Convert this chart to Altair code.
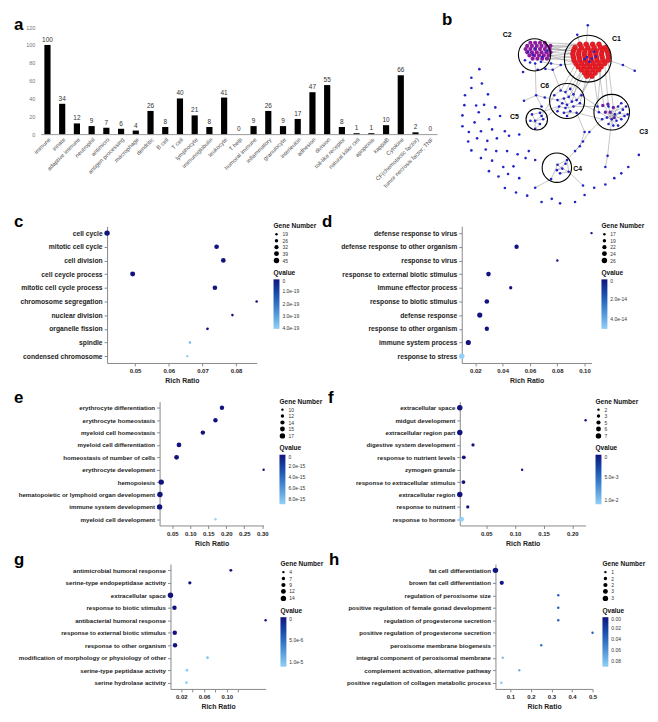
import math
import altair as alt
import pandas as pd

FONT = "Liberation Sans"
DARK = "#12137f"
LIGHT = "#93d0f6"

# ---------------- panel a ----------------
A_CATS = ["immune", "innate", "adaptive immune", "neutrophil", "antimicro", "antigen processing",
          "macrophage", "dendritic", "B cell", "T cell", "lymphocyte", "immunoglobulin", "leukocyte",
          "T help", "humoral immune", "inflammatory", "granulocyte", "interleukin", "adhesion",
          "division", "toll-like receptor", "natural killer cell", "apoptosis", "kappaB", "Cytokine",
          "CF(chemotactic factor)", "tumor necrosis factor; TNF"]
A_VALS = [100, 34, 12, 9, 7, 6, 4, 26, 8, 40, 21, 8, 41, 0, 9, 26, 9, 17, 47, 55, 8, 1, 1, 10, 66, 2, 0]
A_YTICKS = [0, 20, 40, 60, 80, 100, 120]

# ---------------- panel b (network, layout units) ----------------
OUT_X = [125, 100, 133, 80, 100, 152, 78, 115, 140, 175, 72, 123, 155, 190, 72, 110, 92, 130, 165, 205,
         90, 118, 150, 180, 218, 250, 100, 145, 178, 212, 245, 280, 130, 165, 200, 232, 270, 300, 155,
         185, 215, 250, 205, 240, 275, 300, 320, 352, 378, 425, 455, 485, 520, 548, 570, 592, 625, 450]
OUT_Y = [183, 210, 228, 265, 242, 262, 296, 297, 295, 303, 328, 318, 340, 330, 362, 350, 380, 378, 372, 378,
         410, 400, 408, 400, 392, 388, 438, 435, 440, 440, 450, 440, 462, 470, 490, 488, 462, 468, 503,
         520, 512, 525, 556, 570, 580, 555, 600, 590, 604, 600, 578, 555, 545, 525, 510, 490, 452, 548]
CON_X = [380, 355, 303, 330, 265, 320, 455, 440, 425, 470, 450, 575, 612, 465, 432, 527, 520]
CON_Y = [170, 185, 265, 272, 282, 300, 380, 425, 440, 380, 410, 170, 188, 45, 75, 455, 490]
C6_X = [380, 395, 410, 420, 405, 390, 370, 385, 400, 415, 430, 375, 395, 420, 440, 410, 390, 430, 360, 445, 400, 370]
C6_Y = [250, 255, 245, 262, 270, 275, 280, 290, 295, 285, 280, 300, 305, 300, 290, 315, 320, 320, 265, 265, 330, 315]
C5_X = [290, 315, 325, 300, 285, 315, 300, 320]
C5_Y = [325, 320, 340, 345, 345, 355, 370, 330]
C4_X = [400, 370, 385, 405, 368, 350, 395, 378]
C4_Y = [468, 483, 495, 505, 500, 528, 480, 510]
C3_X = [530, 560, 575, 550, 565, 580, 525, 540, 555, 570, 510, 545, 560, 530, 590, 500, 495, 585, 570]
C3_Y = [300, 300, 310, 325, 320, 330, 335, 340, 345, 340, 340, 360, 360, 355, 325, 318, 300, 300, 290]
C3P_X = [512, 528, 545, 535, 520, 548]
C3P_Y = [297, 293, 303, 318, 318, 335]
C2B_X = [278, 292, 300, 322, 338, 284, 300, 318, 332, 268, 262, 308, 350]
C2B_Y = [128, 138, 118, 145, 125, 162, 165, 160, 182, 155, 192, 185, 165]
C2_X = [285, 300, 315, 330, 275, 290, 305, 320, 335, 348, 270, 285, 300, 315, 330, 345,
        275, 290, 305, 320, 335, 348, 282, 297, 312, 327, 342, 292, 307, 322, 337]
C2_Y = [100, 100, 100, 100, 110, 110, 110, 110, 110, 110, 120, 120, 120, 120, 120, 120,
        130, 130, 130, 130, 130, 130, 140, 140, 140, 140, 140, 150, 150, 150, 150]
C1B_X = [462, 478, 490, 470, 455, 485]
C1B_Y = [145, 150, 143, 160, 152, 128]
C1_X = [440, 460, 480, 500, 425, 445, 465, 485, 505, 520, 420, 438, 456, 474, 492, 510, 526,
        418, 436, 454, 472, 490, 508, 528, 420, 438, 456, 474, 492, 510, 530, 422, 440, 458, 476,
        494, 512, 528, 428, 446, 464, 482, 500, 518, 435, 453, 471, 489, 507, 445, 463, 481, 499,
        455, 470, 488, 462, 478]
C1_Y = [105, 105, 105, 105, 115, 115, 115, 115, 115, 115, 125, 125, 125, 125, 125, 125, 125,
        135, 135, 135, 135, 135, 135, 135, 145, 145, 145, 145, 145, 145, 145, 155, 155, 155, 155,
        155, 155, 155, 165, 165, 165, 165, 165, 165, 175, 175, 175, 175, 175, 185, 185, 185, 185,
        195, 195, 195, 205, 205]
# edges: start/end points in layout units
E_X1 = [348, 348, 348, 342, 337, 345, 348, 342, 330, 337, 348, 335, 342, 330,
        453, 463, 478, 440, 428, 488, 470, 462, 445,
        500, 518, 528, 507, 481, 528, 575, 465, 432,
        300, 318, 380, 355, 332, 303, 303, 303, 330, 355,
        380, 395, 410, 420, 405, 390, 370, 385, 400, 415, 430, 375, 395, 420, 410, 390, 360, 400, 370,
        405, 395, 385, 400, 400, 420, 390,
        440, 430, 420, 445, 370, 360, 375,
        290, 315, 290, 300, 300, 285, 320, 315,
        540, 540, 540, 540, 540, 540, 540, 540, 540, 540, 540, 535, 535, 535, 535, 535, 535, 535, 550, 550,
        430, 455, 440, 425, 510, 470, 450, 540, 527,
        400, 370, 385, 400, 370, 368, 378, 395, 368, 350, 405]
E_Y1 = [110, 120, 130, 140, 150, 120, 110, 140, 100, 150, 130, 110, 140, 120,
        175, 185, 205, 165, 165, 185, 160, 205, 185,
        185, 165, 155, 175, 185, 155, 170, 45, 75,
        165, 160, 170, 185, 182, 265, 265, 265, 272, 185,
        250, 255, 245, 262, 270, 275, 280, 290, 295, 285, 280, 300, 305, 300, 315, 320, 265, 330, 315,
        270, 255, 290, 295, 295, 262, 275,
        290, 320, 300, 265, 300, 265, 300,
        325, 320, 325, 345, 345, 345, 330, 355,
        340, 340, 340, 340, 340, 340, 340, 340, 340, 340, 340, 320, 320, 320, 320, 320, 320, 320, 325, 325,
        320, 380, 425, 440, 340, 380, 410, 340, 455,
        468, 483, 495, 468, 483, 500, 510, 480, 500, 528, 505]
E_X2 = [425, 420, 418, 420, 422, 440, 418, 428, 440, 420, 425, 460, 418, 420,
        410, 420, 430, 395, 380, 445, 405, 440, 415,
        515, 530, 545, 495, 500, 575, 612, 460, 440,
        303, 380, 428, 380, 355, 330, 265, 320, 370, 380,
        395, 410, 420, 405, 390, 370, 385, 400, 415, 430, 445, 395, 420, 440, 390, 430, 380, 410, 375,
        415, 405, 375, 395, 410, 430, 400,
        500, 510, 495, 495, 315, 320, 325,
        315, 325, 300, 325, 300, 315, 300, 300,
        515, 530, 560, 575, 520, 565, 580, 525, 545, 560, 500, 545, 550, 555, 570, 590, 585, 570, 530, 510,
        455, 440, 425, 400, 470, 450, 425, 527, 520,
        370, 385, 405, 405, 350, 395, 405, 400, 385, 300, 450]
E_Y2 = [115, 125, 135, 145, 155, 105, 135, 165, 105, 145, 115, 105, 135, 125,
        245, 262, 280, 255, 250, 265, 270, 290, 285,
        295, 300, 305, 300, 318, 170, 188, 105, 105,
        265, 170, 165, 170, 185, 272, 282, 300, 280, 250,
        255, 245, 262, 270, 275, 280, 290, 295, 285, 280, 265, 305, 300, 290, 320, 320, 250, 315, 300,
        285, 270, 300, 305, 315, 280, 295,
        318, 340, 300, 300, 320, 330, 340,
        320, 340, 345, 340, 370, 355, 345, 370,
        295, 300, 300, 310, 315, 320, 330, 335, 360, 360, 318, 305, 325, 345, 340, 325, 300, 290, 355, 340,
        380, 425, 440, 468, 380, 410, 440, 455, 490,
        483, 495, 505, 505, 528, 480, 505, 468, 495, 555, 548]
CIRC_X = [465, 298, 540, 400, 305, 368]
CIRC_Y = [150, 138, 318, 283, 340, 492]
CIRC_R = [83, 57, 63, 62, 38, 52]
CLAB = ["C1", "C2", "C3", "C6", "C5", "C4"]
CLAB_X = [555, 212, 640, 330, 235, 433]
CLAB_Y = [88, 75, 380, 237, 332, 497]

# ---------------- panels c-h ----------------
C_TERMS = ["cell cycle", "mitotic cell cycle", "cell division", "cell ceycle process",
           "mitotic cell cycle process", "chromosome segregation", "nuclear division",
           "organelle fission", "spindle", "condensed chromosome"]
C_RATIO = [0.0417, 0.0742, 0.0762, 0.0493, 0.0737, 0.0861, 0.0789, 0.0715, 0.0663, 0.0655]
C_GENES = [45, 37, 37, 40, 36, 20, 20, 21, 19, 19]
C_Q = [0, 0, 0, 0, 0, 0, 0, 0, 3.5e-19, 4.1e-19]
C_QTICKS = [0, 1e-19, 2e-19, 3e-19, 4e-19]
C_GTICKS = [19, 25.5, 32, 38.5, 45]
C_XTICKS = [0.05, 0.06, 0.07, 0.08]

D_TERMS = ["defense response to virus", "defense response to other organism", "response to virus",
           "response to external biotic stimulus", "immune effector process",
           "response to biotic stimulus", "defense response", "response to other organism",
           "immune system process", "response to stress"]
D_RATIO = [0.1052, 0.0502, 0.0801, 0.0296, 0.0459, 0.0284, 0.0232, 0.0284, 0.0148, 0.0100]
D_GENES = [17, 22, 17, 23, 19, 23, 25, 22, 25, 26]
D_Q = [0, 0, 0, 0, 0, 0, 0, 0, 0, 5e-14]
D_QTICKS = [0, 2e-14, 4e-14]
D_GTICKS = [17, 19.25, 21.5, 23.75, 26]
D_XTICKS = [0.02, 0.04, 0.06, 0.08, 0.10]

E_TERMS = ["erythrocyte differentiation", "erythrocyte homeostasis", "myeloid cell homeostasis",
           "myeloid cell differentiation", "homeostasis of number of cells", "erythrocyte development",
           "hemopoiesis", "hematopoietic or lymphoid organ development", "immune system development",
           "myeloid cell development"]
E_RATIO = [0.188, 0.170, 0.135, 0.0686, 0.062, 0.3037, 0.0194, 0.0158, 0.0148, 0.170]
E_GENES = [14, 14, 14, 15, 15, 10, 17, 17, 17, 10]
E_Q = [0, 0, 0, 0, 0, 0, 0, 0, 0, 9e-15]
E_QTICKS = [0, 2e-15, 4e-15, 6e-15, 8e-15]
E_GTICKS = [10, 11.75, 13.5, 15.25, 17]
E_XTICKS = [0.05, 0.10, 0.15, 0.20, 0.25, 0.30]

F_TERMS = ["extracellular space", "midgut development", "extracellular region part",
           "digestive system development", "response to nutrient levels", "zymogen granule",
           "response to extracellular stimulus", "extracellular region", "response to nutnent",
           "response to hormone"]
F_RATIO = [0.0037, 0.2232, 0.0037, 0.0268, 0.0107, 0.1124, 0.0101, 0.0037, 0.0176, 0.0067]
F_GENES = [7, 2, 7, 3, 4, 2, 4, 7, 3, 6]
F_Q = [0, 0, 0, 0, 0, 0, 0, 0, 0, 1.1e-2]
F_QTICKS = [0, 5e-3, 1e-2]
F_GTICKS = [2, 3.25, 4.5, 5.75, 7]
F_XTICKS = [0.05, 0.10, 0.15, 0.20]

G_TERMS = ["antimicrobial humoral response", "serine-type endopeptidase activity", "extracellular space",
           "response to biotic stimulus", "antibacterial humoral response",
           "response to external biotic stimulus", "response to other organism",
           "modification of morphology or physiology of other", "serine-type peptidase activity",
           "serine hydrolase activity"]
G_RATIO = [0.107, 0.035, 0.001, 0.008, 0.168, 0.0085, 0.009, 0.066, 0.030, 0.029]
G_GENES = [5, 6, 14, 10, 4, 10, 10, 5, 5, 5]
G_Q = [0, 0, 0, 0, 0, 0, 0, 1.05e-5, 1.1e-5, 1.1e-5]
G_QTICKS = [0, 5e-6, 1e-5]
G_GTICKS = [4, 6.5, 9, 11.5, 14]
G_XTICKS = [0.02, 0.04, 0.06, 0.08, 0.10, 0.12]

H_TERMS = ["fat cell differentiation", "brown fat cell differentiation", "regulation of peroxisome size",
           "positive regulation of female gonad development", "regulation of progesterone secretion",
           "positive regulation of progesterone secretion", "peroxisome membrane biogenesis",
           "integral component of peroxisomal membrane", "complement activation, alternative pathway",
           "positive regulation of collagen metabolic process"]
H_RATIO = [0.027, 0.0578, 0.333, 0.333, 0.333, 0.5, 0.25, 0.0625, 0.143, 0.0556]
H_GENES = [3, 2, 1, 1, 1, 1, 1, 1, 1, 1]
H_Q = [0, 0.002, 0.035, 0.035, 0.035, 0.035, 0.045, 0.08, 0.075, 0.085]
H_QTICKS = [0, 0.02, 0.04, 0.06, 0.08]
H_GTICKS = [1, 1.5, 2, 2.5, 3]
H_XTICKS = [0.1, 0.2, 0.3, 0.4, 0.5]


def letter(text, px, py):
    """Panel letter, placed relative to the panel's plot area."""
    return alt.Chart(pd.DataFrame({"t": [text]})).mark_text(
        font=FONT, fontSize=17, fontWeight="bold", color="black", align="left",
        baseline="alphabetic").encode(text="t:N", x=alt.value(px), y=alt.value(py))


# ---- a ----
a_df = pd.DataFrame({"cat": A_CATS, "val": A_VALS})
a_base = alt.Chart(a_df).encode(
    x=alt.X("cat:N", sort=A_CATS, title=None,
            scale=alt.Scale(paddingInner=0.58, paddingOuter=0.25),
            axis=alt.Axis(labelAngle=-45, labelFontSize=5.8, labelColor="#555", ticks=False,
                          domainColor="#999", labelPadding=2, labelLimit=200)),
    y=alt.Y("val:Q", title=None, scale=alt.Scale(domain=[0, 120]),
            axis=alt.Axis(values=A_YTICKS, grid=False, domain=False, ticks=False, labelFontSize=5.5,
                          labelColor="#777", labelPadding=6)),
)
a_chart = alt.layer(
    a_base.mark_bar(color="black"),
    a_base.mark_text(dy=-5, fontSize=6.5, color="#333", font=FONT).encode(text="val:Q"),
    letter("a", -27, 3),
).properties(width=400, height=108)

# ---- b ----
NX0, NX1, NY0, NY1 = 45, 660, 51, 620
WB = 198
K = WB / (NX1 - NX0)
HB = round((NY1 - NY0) * K)
xsc = alt.Scale(domain=[NX0, NX1], nice=False, zero=False)
ysc = alt.Scale(domain=[NY0, NY1], nice=False, zero=False, reverse=True)


def nodes(xs, ys, color, size, stroke=None):
    df = pd.DataFrame({"x": xs, "y": ys})
    kw = dict(color=color, size=size, opacity=1)
    if stroke:
        kw.update(stroke=stroke, strokeWidth=0.4)
    return alt.Chart(df).mark_circle(**kw).encode(
        x=alt.X("x:Q", scale=xsc, axis=None), y=alt.Y("y:Q", scale=ysc, axis=None))


edges_df = pd.DataFrame({"x1": E_X1, "y1": E_Y1, "x2": E_X2, "y2": E_Y2})
edges = alt.Chart(edges_df).mark_rule(color="#8a8a8a", strokeWidth=0.5).encode(
    x=alt.X("x1:Q", scale=xsc, axis=None), y=alt.Y("y1:Q", scale=ysc, axis=None), x2="x2:Q", y2="y2:Q")
circ_df = pd.DataFrame({"x": CIRC_X, "y": CIRC_Y, "r": CIRC_R})
circ_df["area"] = [math.pi * (r * K) ** 2 for r in CIRC_R]
circles = alt.Chart(circ_df).mark_point(shape="circle", filled=False, color="black", strokeWidth=1.1,
                                         opacity=1).encode(
    x=alt.X("x:Q", scale=xsc, axis=None), y=alt.Y("y:Q", scale=ysc, axis=None),
    size=alt.Size("area:Q", scale=None))
lab_df = pd.DataFrame({"x": CLAB_X, "y": CLAB_Y, "t": CLAB})
labels = alt.Chart(lab_df).mark_text(font=FONT, fontSize=7, fontWeight="bold", color="black").encode(
    x=alt.X("x:Q", scale=xsc, axis=None), y=alt.Y("y:Q", scale=ysc, axis=None), text="t:N")

BLUE = "#2424c4"
b_chart = alt.layer(
    edges,
    nodes(C1_X, C1_Y, "#ec1c24", 26, stroke="#b3121a"),
    nodes(C2_X, C2_Y, "#8c1c9c", 18),
    nodes(C3P_X, C3P_Y, "#6c22a8", 12),
    nodes(OUT_X + CON_X + C6_X + C5_X + C4_X + C3_X + C2B_X + C1B_X,
          OUT_Y + CON_Y + C6_Y + C5_Y + C4_Y + C3_Y + C2B_Y + C1B_Y, BLUE, 7),
    circles,
    labels,
    letter("b", -12, -2),
).properties(width=WB, height=HB)


# ---- dot panels ----
def dot_panel(let, lx, ly, terms, ratio, genes, qv, qmax, qticks, qlabel, gticks, xticks, xfmt,
              width, height, lab_fs, legend_gap):
    df = pd.DataFrame({"term": terms, "ratio": ratio, "genes": genes, "q": qv})
    color_legend = dict(title="Qvalue", values=qticks, orient="none", legendX=width + legend_gap,
                        legendY=44, direction="vertical", gradientLength=50, gradientThickness=6,
                        labelOverlap=False, labelFontSize=5, titleFontSize=6.6, labelOffset=3,
                        titlePadding=3, gradientStrokeWidth=0)
    if qlabel:
        color_legend["labelExpr"] = qlabel
    else:
        color_legend["format"] = ".2f"
    dots = alt.Chart(df).mark_circle(opacity=1).encode(
        x=alt.X("ratio:Q", title="Rich Ratio",
                scale=alt.Scale(domain=[min(ratio), max(ratio)], nice=False, zero=False),
                axis=alt.Axis(values=xticks, format=xfmt, grid=False, labelFontSize=6,
                              labelFontWeight="bold", titleFontSize=7, titleFontWeight="bold",
                              tickSize=3, labelPadding=2, titlePadding=3, domainColor="#888",
                              tickColor="#888", labelColor="#222", titleColor="#222", labelFlush=False)),
        y=alt.Y("term:N", sort=terms, title=None,
                axis=alt.Axis(labelFontSize=lab_fs, labelFontWeight="bold", labelColor="#222",
                              tickSize=3, labelPadding=2, domainColor="#888", tickColor="#888",
                              labelLimit=400, grid=False)),
        size=alt.Size("genes:Q",
                      scale=alt.Scale(domain=[min(genes), max(genes)], range=[6, 30], zero=False),
                      legend=alt.Legend(title="Gene Number", values=gticks, format="d", orient="none",
                                        legendX=width + legend_gap, legendY=-3, symbolType="circle",
                                        labelFontSize=5, titleFontSize=6.6, rowPadding=0.5,
                                        labelOffset=3, titlePadding=2, symbolStrokeWidth=0)),
        color=alt.Color("q:Q", scale=alt.Scale(domain=[qmax, 0], range=[LIGHT, DARK]),
                        legend=alt.Legend(**color_legend)),
    )
    return alt.layer(dots, letter(let, lx, ly)).properties(width=width, height=height)


SCI = "datum.value == 0 ? '0' : format(datum.value, '.1e')"
c_chart = dot_panel("c", -94, 1, C_TERMS, C_RATIO, C_GENES, C_Q, 4.1e-19, C_QTICKS, SCI, C_GTICKS,
                    C_XTICKS, ".2f", 151, 138, 6.8, 17)
d_chart = dot_panel("d", -141, 1, D_TERMS, D_RATIO, D_GENES, D_Q, 5e-14, D_QTICKS, SCI, D_GTICKS,
                    D_XTICKS, ".2f", 131, 138, 6.8, 10)
e_chart = dot_panel("e", -147, 1, E_TERMS, E_RATIO, E_GENES, E_Q, 9e-15, E_QTICKS, SCI, E_GTICKS,
                    E_XTICKS, ".2f", 105, 125, 6.2, 16)
f_chart = dot_panel("f", -133, 1, F_TERMS, F_RATIO, F_GENES, F_Q, 1.1e-2, F_QTICKS, SCI, F_GTICKS,
                    F_XTICKS, ".2f", 127, 125, 6.2, 10)
g_chart = dot_panel("g", -158, 1, G_TERMS, G_RATIO, G_GENES, G_Q, 1.1e-5, G_QTICKS, SCI, G_GTICKS,
                    G_XTICKS, ".2f", 96, 126, 6.2, 15)
h_chart = dot_panel("h", -168, 1, H_TERMS, H_RATIO, H_GENES, H_Q, 0.09, H_QTICKS, None, H_GTICKS,
                    H_XTICKS, ".1f", 98, 126, 6.2, 10)

IND = dict(size="independent", color="independent", x="independent", y="independent")


def spacer():
    # an empty, invisible cell: the first column of every row, so that rows line up on their left edges
    return alt.Chart(pd.DataFrame({"s": [0]})).mark_point(size=0, opacity=0).encode(
        x=alt.value(0), y=alt.value(0)).properties(width=1, height=1)


def row(left, right, gap):
    return alt.concat(spacer(), left, right, columns=3, spacing=gap, align="none",
                      bounds="full").resolve_scale(**IND)


chart = alt.concat(
    row(a_chart, b_chart, 5), row(c_chart, d_chart, 5), row(e_chart, f_chart, 5), row(g_chart, h_chart, 5),
    columns=1, spacing=5, align="none", bounds="full",
).resolve_scale(**IND).properties(padding=0)
chart = chart.configure(font=FONT).configure_view(stroke=None, strokeWidth=0).configure_legend(
    symbolBaseFillColor="black", symbolBaseStrokeColor="black", titleFont=FONT, labelFont=FONT,
    labelColor="#333", titleColor="#111"
).configure_axis(labelFont=FONT, titleFont=FONT)

chart.save("out.html", embed_options={"renderer": "svg", "actions": False})
